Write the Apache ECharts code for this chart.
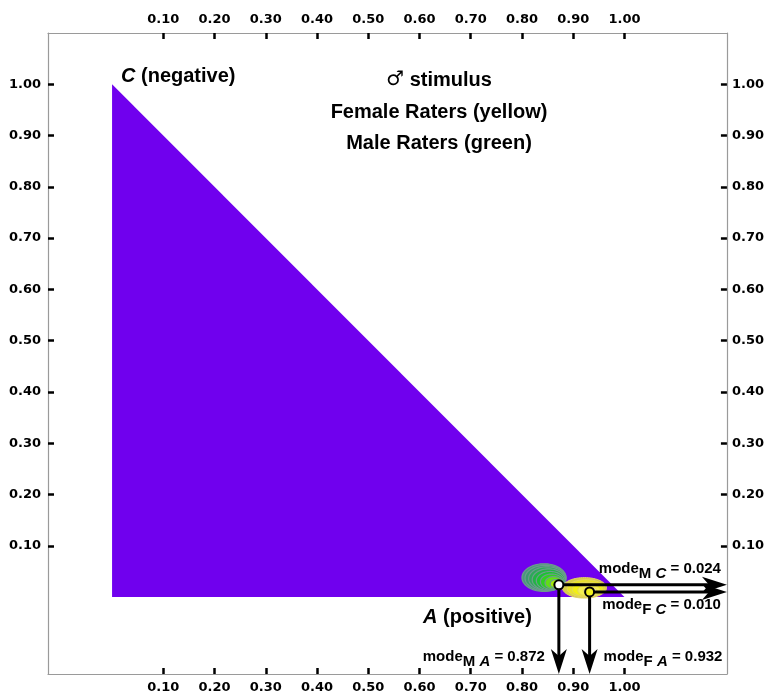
<!DOCTYPE html>
<html><head><meta charset="utf-8">
<script src="https://cdn.jsdelivr.net/npm/echarts@6/dist/echarts.min.js"></script>
<style>html,body{margin:0;padding:0;background:#fff}#c{width:767px;height:700px}</style>
</head><body><div id="c"></div>
<script>
// ---- data ----
const tickValues = [0.1, 0.2, 0.3, 0.4, 0.5, 0.6, 0.7, 0.8, 0.9, 1.0];
const xRange = [-0.125, 1.2];
const yRange = [-0.15, 1.1];
const triangleX = [0, 1, 0];
const triangleY = [0, 0, 1];
// density contour rings: [centerX, centerY, radiusX, radiusY]
const maleRings = [
  [0.843, 0.038, 0.043, 0.027],
  [0.846, 0.037, 0.040, 0.025],
  [0.849, 0.036, 0.036, 0.023],
  [0.852, 0.034, 0.032, 0.021],
  [0.855, 0.032, 0.027, 0.018],
  [0.858, 0.030, 0.022, 0.015],
  [0.862, 0.028, 0.017, 0.012],
  [0.866, 0.026, 0.011, 0.008]
];
const femaleRings = [
  [0.922, 0.018, 0.043, 0.020],
  [0.925, 0.017, 0.037, 0.017],
  [0.928, 0.015, 0.030, 0.014],
  [0.931, 0.013, 0.022, 0.011],
  [0.933, 0.012, 0.013, 0.007]
];
const modeMale = [0.872, 0.024];
const modeFemale = [0.932, 0.010];

// ---- styles ----
const maleFills = ['#4a9680', '#3c9a70', '#2ea85a', '#22b444', '#1cc232', '#30d020', '#62de14', '#a4ea0c'];
const maleStroke = '#6c9c8c';
const femaleFills = ['#d6cc44', '#e8e228', '#f2f014', '#f4f050', '#f6f4a0'];
const femaleStroke = '#e2d468';
const LAB = '"Liberation Sans", Arial, sans-serif';
const TICKF = '"DejaVu Sans", Verdana, sans-serif';

function axisCfg(position, margin) {
  return {
    type: 'value', position: position, min: null, max: null,
    axisLine: { show: true, onZero: false, lineStyle: { color: '#9a9a9a', width: 1.2 } },
    axisTick: { show: true, inside: true, length: 6, customValues: tickValues, lineStyle: { color: '#000', width: 2.5 } },
    axisLabel: { show: true, customValues: tickValues, margin: margin, formatter: v => v.toFixed(2),
      fontFamily: TICKF, fontWeight: 'bold', fontSize: 13, color: '#000' },
    splitLine: { show: false }
  };
}
const xb = axisCfg('bottom', 7), xt = axisCfg('top', 7);
const yl = axisCfg('left', 7), yr = axisCfg('right', 5);
[xb, xt].forEach(a => { a.min = xRange[0]; a.max = xRange[1]; });
[yl, yr].forEach(a => { a.min = yRange[0]; a.max = yRange[1]; });

function ellipse(api, r) {
  const pts = [];
  for (let k = 0; k < 72; k++) {
    const t = 2 * Math.PI * k / 72;
    pts.push(api.coord([r[0] + r[2] * Math.cos(t), r[1] + r[3] * Math.sin(t)]));
  }
  return pts;
}

function arrow(api, from, to, lw) {
  const p0 = api.coord(from), p1 = api.coord(to);
  const dx = p1[0] - p0[0], dy = p1[1] - p0[1];
  const len = Math.sqrt(dx * dx + dy * dy);
  const ux = dx / len, uy = dy / len, nx = -uy, ny = ux;
  const L = 25, W = 8, N = 7;
  const base = [p1[0] - ux * L, p1[1] - uy * L];
  return [
    { type: 'line', shape: { x1: p0[0], y1: p0[1], x2: p1[0] - ux * 10, y2: p1[1] - uy * 10 },
      style: { stroke: '#000', lineWidth: lw } },
    { type: 'polygon', shape: { points: [
        [p1[0], p1[1]],
        [base[0] + nx * W, base[1] + ny * W],
        [base[0] + ux * N, base[1] + uy * N],
        [base[0] - nx * W, base[1] - ny * W]] },
      style: { fill: '#000' } }
  ];
}

function richText(sub, letter, val) {
  return '{m|mode}{s|' + sub + ' }{si|' + letter + '}{m| = ' + val + '}';
}
const richStyles = {
  m: { fontFamily: LAB, fontWeight: 'bold', fontSize: 15, fill: '#000', verticalAlign: 'top' },
  s: { fontFamily: LAB, fontWeight: 'bold', fontSize: 15, fill: '#000', padding: [5, 0, 0, 0], verticalAlign: 'bottom' },
  si: { fontFamily: LAB, fontWeight: 'bold', fontStyle: 'italic', fontSize: 15, fill: '#000', padding: [5, 0, 0, 0], verticalAlign: 'bottom' }
};
const bigText = { fontFamily: LAB, fontWeight: 'bold', fontSize: 20, fill: '#000' };

const chart = echarts.init(document.getElementById('c'));
chart.setOption({
  animation: false,
  backgroundColor: '#fff',
  grid: { left: 48, right: 39, top: 33, bottom: 26, containLabel: false },
  xAxis: [xb, xt],
  yAxis: [yl, yr],
  series: [
    { type: 'custom', z: 1, data: triangleX.map((x, i) => [x, triangleY[i]]),
      renderItem: (params, api) => {
        if (params.dataIndex !== 0) return null;
        return { type: 'polygon', shape: { points: triangleX.map((x, i) => api.coord([x, triangleY[i]])) },
          style: { fill: '#7000ee' } };
      } },
    { type: 'custom', z: 2, data: maleRings,
      renderItem: (params, api) => ({ type: 'polygon',
        shape: { points: ellipse(api, maleRings[params.dataIndex]) },
        style: { fill: maleFills[params.dataIndex], stroke: maleStroke, lineWidth: 1.2 } }) },
    { type: 'custom', z: 3, data: femaleRings,
      renderItem: (params, api) => ({ type: 'polygon',
        shape: { points: ellipse(api, femaleRings[params.dataIndex]) },
        style: { fill: femaleFills[params.dataIndex], stroke: femaleStroke, lineWidth: 1 } }) },
    { type: 'custom', z: 4, data: [modeMale, modeFemale],
      renderItem: (params, api) => {
        const m = params.dataIndex === 0 ? modeMale : modeFemale;
        return { type: 'group', children: [
          ...arrow(api, m, [xRange[1], m[1]], 3),
          ...arrow(api, m, [m[0], yRange[0]], 3)
        ] };
      } },
    { type: 'scatter', z: 5, data: [modeMale], symbol: 'circle', symbolSize: 9,
      itemStyle: { color: '#ffffff', borderColor: '#000', borderWidth: 2, opacity: 1 } },
    { type: 'scatter', z: 5, data: [modeFemale], symbol: 'circle', symbolSize: 9,
      itemStyle: { color: '#f0f020', borderColor: '#000', borderWidth: 2, opacity: 1 } },
    { type: 'custom', z: 6, data: [[0, 0]],
      renderItem: (params, api) => {
        const right = api.coord([xRange[1], 0])[0];
        const bottom = api.coord([0, yRange[0]])[1];
        const pm = api.coord(modeMale), pf = api.coord(modeFemale);
        return { type: 'group', children: [
          { type: 'text', x: right - 6, y: pm[1] - 3,
            style: { text: richText('M', 'C', modeMale[1].toFixed(3)), rich: richStyles, align: 'right', verticalAlign: 'bottom' } },
          { type: 'text', x: right - 6, y: pf[1] + 5,
            style: { text: richText('F', 'C', modeFemale[1].toFixed(3)), rich: richStyles, align: 'right', verticalAlign: 'top' } },
          { type: 'text', x: pm[0] - 14, y: bottom - 25,
            style: { text: richText('M', 'A', modeMale[0].toFixed(3)), rich: richStyles, align: 'right', verticalAlign: 'top' } },
          { type: 'text', x: pf[0] + 14, y: bottom - 25,
            style: { text: richText('F', 'A', modeFemale[0].toFixed(3)), rich: richStyles, align: 'left', verticalAlign: 'top' } }
        ] };
      } }
  ],
  graphic: [
    { type: 'text', x: 439, y: 80, z: 10, style: { text: '{g|♂}{n| stimulus}', align: 'center', verticalAlign: 'middle',
      rich: { g: { fontFamily: '"DejaVu Sans"', fontWeight: 'bold', fontSize: 20, fill: '#000' }, n: bigText } } },
    { type: 'text', x: 439, y: 112, z: 10, style: { text: 'Female Raters (yellow)', fontFamily: LAB, fontWeight: 'bold', fontSize: 20, fill: '#000', align: 'center', verticalAlign: 'middle' } },
    { type: 'text', x: 439, y: 143, z: 10, style: { text: 'Male Raters (green)', fontFamily: LAB, fontWeight: 'bold', fontSize: 20, fill: '#000', align: 'center', verticalAlign: 'middle' } },
    { type: 'text', x: 121, y: 76, z: 10, style: { text: '{c|C}{n| (negative)}', align: 'left', verticalAlign: 'middle',
      rich: { c: Object.assign({}, bigText, { fontStyle: 'italic' }), n: bigText } } },
    { type: 'text', x: 423, y: 617, z: 10, style: { text: '{c|A}{n| (positive)}', align: 'left', verticalAlign: 'middle',
      rich: { c: Object.assign({}, bigText, { fontStyle: 'italic' }), n: bigText } } }
  ]
});
</script>
</body></html>
